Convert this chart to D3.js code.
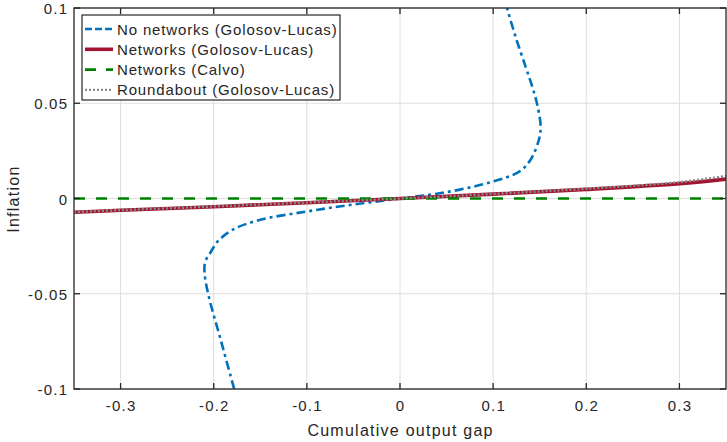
<!DOCTYPE html>
<html><head><meta charset="utf-8">
<script src="https://cdn.jsdelivr.net/npm/d3@7"></script>
<style>body{margin:0;background:#fff}svg{display:block}text{font-family:"Liberation Sans",Arial,Helvetica,sans-serif;fill:#262626}</style>
</head><body>
<svg id="c" width="727" height="442"></svg>
<script>
const xTicks = [-0.3,-0.2,-0.1,0,0.1,0.2,0.3];
const yTicks = [-0.1,-0.05,0,0.05,0.1];
const xTickLabels = ["-0.3","-0.2","-0.1","0","0.1","0.2","0.3"];
const yTickLabels = ["-0.1","-0.05","0","0.05","0.1"];
const seriesNames = ["No networks (Golosov-Lucas)","Networks (Golosov-Lucas)","Networks (Calvo)","Roundabout (Golosov-Lucas)"];

// No networks (Golosov-Lucas): [output gap, inflation]
const noNetX = [-0.172,-0.178,-0.192,-0.206,-0.210,-0.209,-0.204,-0.196,-0.180,-0.151,-0.101,-0.054,0,0.053,0.099,0.128,0.140,0.149,0.151,0.147,0.142,0.135,0.124,0.115,0.110];
const noNetY = [-0.11,-0.1,-0.075,-0.05,-0.038,-0.033,-0.0288,-0.0227,-0.0165,-0.0113,-0.0069,-0.0034,0,0.0036,0.0088,0.0141,0.0202,0.0307,0.0377,0.05,0.0587,0.069,0.085,0.1,0.11];
// Networks (Golosov-Lucas)
const netX = [-0.35,-0.3,-0.2,-0.1,0,0.1,0.2,0.3,0.35];
const netY = [-0.0072,-0.0062,-0.0043,-0.0022,0,0.0023,0.0048,0.0078,0.0102];
// Networks (Calvo)
const calvoX = [-0.35,0.35];
const calvoY = [0,0];
// Roundabout (Golosov-Lucas)
const roundX = [-0.35,-0.3,-0.2,-0.1,0,0.1,0.2,0.3,0.35];
const roundY = [-0.0071,-0.0061,-0.0042,-0.0021,0,0.0024,0.0051,0.0086,0.0118];

const L=74, R=726, T=8, B=389;
const svg = d3.select("#c");
const x = d3.scaleLinear().domain([-0.35,0.35]).range([L,R]);
const y = d3.scaleLinear().domain([-0.1,0.1]).range([B,T]);

// grid
const g = svg.append("g");
g.selectAll(".gx").data(xTicks).enter().append("line")
 .attr("x1",d=>x(d)).attr("x2",d=>x(d)).attr("y1",T).attr("y2",B)
 .attr("stroke","#dedede").attr("stroke-width",1);
g.selectAll(".gy").data(yTicks).enter().append("line")
 .attr("y1",d=>y(d)).attr("y2",d=>y(d)).attr("x1",L).attr("x2",R)
 .attr("stroke","#dedede").attr("stroke-width",1);

svg.append("clipPath").attr("id","clip").append("rect")
 .attr("x",L).attr("y",T).attr("width",R-L).attr("height",B-T);
const plot = svg.append("g").attr("clip-path","url(#clip)");
const line = d3.line().x(d=>x(d[0])).y(d=>y(d[1]));
const lineC = d3.line().curve(d3.curveCatmullRom.alpha(0.5)).x(d=>x(d[0])).y(d=>y(d[1]));

const series = [
 {name:seriesNames[0], data:d3.zip(noNetX,noNetY), color:"#0072BD", w:2.6, dash:"9,4,3,4", ldash:"7,3", gen:lineC},
 {name:seriesNames[1], data:d3.zip(netX,netY), color:"#A2142F", w:3.6, dash:null, ldash:null, gen:lineC},
 {name:seriesNames[2], data:d3.zip(calvoX,calvoY), color:"#008000", w:2.6, dash:"11,11", ldash:"11,10", gen:line},
 {name:seriesNames[3], data:d3.zip(roundX,roundY), color:"#8c8c8c", w:2.4, dash:"2,2", ldash:"2,2", gen:lineC}
];
series.forEach(s=>{
 plot.append("path").attr("d",s.gen(s.data)).attr("fill","none")
  .attr("stroke",s.color).attr("stroke-width",s.w)
  .attr("stroke-dasharray",s.dash);
});

// axes box + ticks
const ax = svg.append("g");
ax.append("rect").attr("x",L).attr("y",T).attr("width",R-L).attr("height",B-T)
 .attr("fill","none").attr("stroke","#262626").attr("stroke-width",1.3);
const tl=6;
xTicks.forEach(d=>{
 ax.append("line").attr("x1",x(d)).attr("x2",x(d)).attr("y1",B).attr("y2",B-tl).attr("stroke","#262626").attr("stroke-width",1.3);
 ax.append("line").attr("x1",x(d)).attr("x2",x(d)).attr("y1",T).attr("y2",T+tl).attr("stroke","#262626").attr("stroke-width",1.3);
});
yTicks.forEach(d=>{
 ax.append("line").attr("y1",y(d)).attr("y2",y(d)).attr("x1",L).attr("x2",L+tl).attr("stroke","#262626").attr("stroke-width",1.3);
 ax.append("line").attr("y1",y(d)).attr("y2",y(d)).attr("x1",R).attr("x2",R-tl).attr("stroke","#262626").attr("stroke-width",1.3);
});
const tls = 1.2;
svg.selectAll(".xl").data(xTicks).enter().append("text")
 .attr("x",d=>x(d)+tls/2).attr("y",B+22).attr("text-anchor","middle").attr("font-size",15)
 .attr("letter-spacing",tls)
 .text((d,i)=>xTickLabels[i]);
svg.selectAll(".yl").data(yTicks).enter().append("text")
 .attr("x",L-7+tls).attr("y",d=>y(d)+6).attr("text-anchor","end").attr("font-size",15)
 .attr("letter-spacing",tls)
 .text((d,i)=>yTickLabels[i]);
svg.append("text").attr("x",(L+R)/2+0.6).attr("y",435.5).attr("text-anchor","middle").attr("font-size",16)
 .attr("letter-spacing",1.25).text("Cumulative output gap");
svg.append("text").attr("transform",`translate(18.5,${(T+B)/2+0.6}) rotate(-90)`).attr("text-anchor","middle").attr("font-size",16)
 .attr("letter-spacing",1.25).text("Inflation");

// legend
const lg = svg.append("g");
lg.append("rect").attr("x",82).attr("y",15).attr("width",258).attr("height",85)
 .attr("fill","#fff").attr("stroke","#262626").attr("stroke-width",1.2);
series.forEach((s,i)=>{
 const yy = 29 + i*20.3;
 lg.append("line").attr("x1",85).attr("x2",113).attr("y1",yy).attr("y2",yy)
  .attr("stroke",s.color).attr("stroke-width",s.w).attr("stroke-dasharray",s.ldash);
 lg.append("text").attr("x",117).attr("y",yy+5.5).attr("font-size",15)
  .attr("letter-spacing",0.85).text(s.name);
});
</script>
</body></html>
